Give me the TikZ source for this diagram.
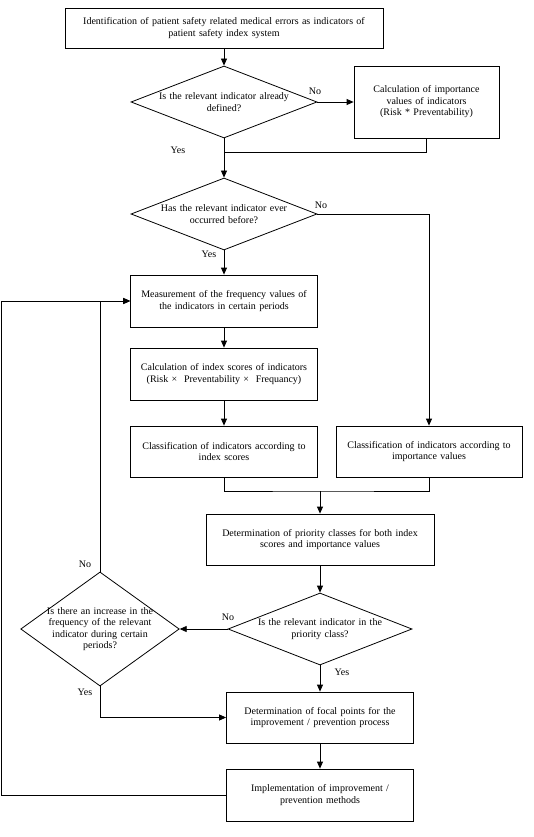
\documentclass[tikz,border=0pt]{standalone}
\usepackage{fontspec}
\setmainfont{Liberation Serif}
\usetikzlibrary{shapes.geometric,arrows.meta}
\begin{document}
\begin{tikzpicture}[x=1pt,y=-1pt,font=\fontsize{10}{11.5}\selectfont,line width=0.8pt,
box/.style 2 args={draw,rectangle,text width=#1,minimum height=#2,inner xsep=4pt,align=center},
dec/.style n args={4}{draw,diamond,minimum width=#1,minimum height=#2,aspect=#3,text width=#4,inner ysep=0pt,inner xsep=-4pt,align=center},
arr/.style={-{Triangle[length=7pt,width=6pt]}},
lbl/.style={inner sep=1pt}]
\useasboundingbox (0,0) rectangle (533,837);
% boxes
\node[box={310pt}{40pt}](ident) at(224,28) {Identification of patient safety related medical errors as indicators of\\patient safety index system};
\node[box={137pt}{72pt}](impval) at(426.5,102) {Calculation of importance\\values of indicators\\(Risk * Preventability)};
\node[box={179pt}{52pt}](meas) at(224,301) {Measurement of the frequency values of\\the indicators in certain periods};
\node[box={179pt}{52pt}](idxcalc) at(224,374) {Calculation of index scores of indicators\\(Risk ×\ \ Preventability ×\ \ Frequancy)};
\node[box={179pt}{51pt}](clsidx) at(224,451.5) {Classification of indicators according to\\index scores};
\node[box={178pt}{51pt}](clsimp) at(429,451.5) {Classification of indicators according to\\importance values};
\node[box={220pt}{51pt}](prio) at(320,539.5) {Determination of priority classes for both index\\scores and importance values};
\node[box={179pt}{51pt}](focal) at(320,717.5) {Determination of focal points for the\\improvement / prevention process};
\node[box={179pt}{52pt}](impl) at(320,795) {Implementation of improvement /\\prevention methods};
% decisions
\node[dec={186pt}{72pt}{2.58}{140pt}](defq) at(224,102) {Is the relevant indicator already\\defined?};
\node[dec={186pt}{72pt}{2.58}{140pt}](occq) at(224,214) {Has the relevant indicator ever\\occurred before?};
\node[dec={184pt}{72pt}{2.56}{130pt}](prioq) at(320,629) {Is the relevant indicator in the\\priority class?};
\node[dec={158pt}{114pt}{1.39}{112pt},inner xsep=-7pt](incq) at(100,629) {Is there an increase in the\\frequency of the relevant\\indicator during certain\\periods?};
% labels
\node[lbl](no1) at(315,91) {No};
\node[lbl](yes1) at(178,150) {Yes};
\node[lbl](no2) at(321,205) {No};
\node[lbl](yes2) at(209,254) {Yes};
\node[lbl](no3) at(228,617) {No};
\node[lbl](yes3) at(342,672) {Yes};
\node[lbl](no4) at(85,564) {No};
\node[lbl](yes4) at(85,692) {Yes};
% connectors
\coordinate (j1) at(224,152);
\coordinate (j2) at(320,491);
\coordinate (lft) at(1,795);
\draw[arr] (ident) -- (defq);
\draw[arr] (defq.east) -- (impval.west);
\draw (impval.south) |- (j1);
\draw[arr] (defq.south) -- (occq.north);
\draw[arr] (occq.east) -| (clsimp.north);
\draw[arr] (occq.south) -- (meas.north);
\draw[arr] (meas) -- (idxcalc);
\draw[arr] (idxcalc) -- (clsidx);
\draw (clsidx.south) |- (j2) -| (clsimp.south);
\draw[arr] (j2) -- (prio.north);
\draw[arr] (prio) -- (prioq);
\draw[arr] (prioq.west) -- (incq.east);
\draw[arr] (prioq.south) -- (focal.north);
\draw[arr] (incq.north) |- (meas.west);
\draw[arr] (incq.south) |- (focal.west);
\draw[arr] (focal) -- (impl);
\draw[arr] (impl.west) -- (lft) |- (meas.west);
\end{tikzpicture}
\end{document}
